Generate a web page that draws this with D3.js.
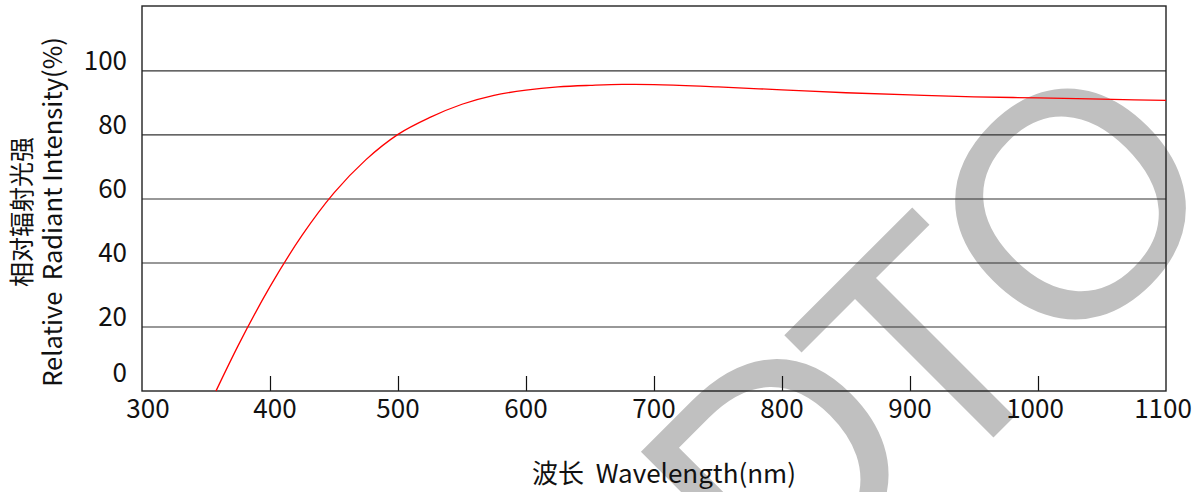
<!DOCTYPE html>
<html><head><meta charset="utf-8">
<script src="https://cdn.jsdelivr.net/npm/d3@7"></script>
<style>html,body{margin:0;padding:0;background:#fff;} svg{display:block;}</style>
</head><body>
<svg id="chart" width="1202" height="492"></svg>
<script>
// ---- data ----
const wavelengths = [357.8, 375, 400, 425, 450, 475, 500, 525, 550, 575, 600, 625, 650, 675, 700, 750, 800, 850, 900, 950, 1000, 1050, 1100];
const intensity   = [0, 14.1, 32.6, 48.6, 61.9, 72.3, 80.2, 85.5, 89.6, 92.4, 94.0, 95.0, 95.5, 95.8, 95.75, 95.0, 94.1, 93.2, 92.5, 91.9, 91.6, 91.2, 90.8];
const xTicks = [300, 400, 500, 600, 700, 800, 900, 1000, 1100];
const yTicks = [0, 20, 40, 60, 80, 100];
const yTitleCN = "相对辐射光强";
const yTitleEN = "Relative  Radiant Intensity(%)";
const xTitle = "波长  Wavelength(nm)";
const watermark = ["D", "T", "O"];

const svg = d3.select("#chart");
const FONT = "'Noto Sans CJK SC','Noto Sans',sans-serif";
const L = 142, R = 1166, T = 6, B = 391;
const x = d3.scaleLinear().domain([300, 1100]).range([L, R]);
const y = d3.scaleLinear().domain([0, 120.3]).range([B, T]);

// watermark (behind)
const wm = svg.append("g").attr("transform", "translate(1004,427) rotate(-45)");
const wmPos = [[-185, -19], [0, 0], [205, 0]];
wm.selectAll("text").data(watermark).join("text")
  .attr("x", (d, i) => wmPos[i][0]).attr("y", (d, i) => wmPos[i][1])
  .attr("text-anchor", "middle")
  .attr("font-family", "'Liberation Sans',Arial,sans-serif")
  .attr("font-size", 320)
  .attr("fill", "#c0c0c0")
  .text(d => d);

// grid lines
svg.append("g").selectAll("line").data(yTicks.filter(d => d > 0)).join("line")
  .attr("x1", L).attr("x2", R).attr("y1", d => y(d)).attr("y2", d => y(d))
  .attr("stroke", "#333").attr("stroke-width", 1.2);

// x axis with inner ticks
const xAxis = d3.axisBottom(x).tickValues(xTicks.slice(1, -1)).tickSizeInner(-15).tickSizeOuter(0).tickFormat("");
const gx = svg.append("g").attr("transform", `translate(0,${B})`).call(xAxis);
gx.select(".domain").remove();
gx.selectAll(".tick line").attr("stroke", "#111").attr("stroke-width", 1.2);

// frame
svg.append("rect").attr("x", L).attr("y", T).attr("width", R - L).attr("height", B - T)
  .attr("fill", "none").attr("stroke", "#222").attr("stroke-width", 1.4);

// x tick labels
svg.append("g").selectAll("text").data(xTicks).join("text")
  .attr("x", d => x(d) + (d === 300 ? 6 : d === 400 ? 5 : d >= 1000 ? -3 : 0)).attr("y", 418)
  .attr("text-anchor", "middle").attr("font-family", FONT).attr("font-size", 26)
  .attr("fill", "#111").text(d => d);

// y tick labels
const yLabelPos = d => d === 0 ? y(0) - 9 : y(d) - 1;
svg.append("g").selectAll("text").data(yTicks).join("text")
  .attr("x", 127).attr("y", yLabelPos)
  .attr("text-anchor", "end").attr("font-family", FONT).attr("font-size", 26)
  .attr("fill", "#111").text(d => d);

// curve
const pts = wavelengths.map((w, i) => [w, intensity[i]]);
const line = d3.line().x(d => x(d[0])).y(d => y(d[1])).curve(d3.curveMonotoneX);
svg.append("path").datum(pts).attr("d", line)
  .attr("fill", "none").attr("stroke", "#ff0000").attr("stroke-width", 1.3);

// axis titles
svg.append("text").attr("transform", "translate(31,212) rotate(-90)")
  .attr("text-anchor", "middle").attr("font-family", FONT).attr("font-size", 25)
  .attr("fill", "#111").text(yTitleCN);
svg.append("text").attr("transform", "translate(62,212) rotate(-90)")
  .attr("text-anchor", "middle").attr("font-family", FONT).attr("font-size", 25.5)
  .attr("fill", "#111").style("white-space", "pre").text(yTitleEN);
svg.append("text").attr("x", 664).attr("y", 483)
  .attr("text-anchor", "middle").attr("font-family", FONT).attr("font-size", 26)
  .attr("fill", "#111").style("white-space", "pre").text(xTitle);
</script>
</body></html>
